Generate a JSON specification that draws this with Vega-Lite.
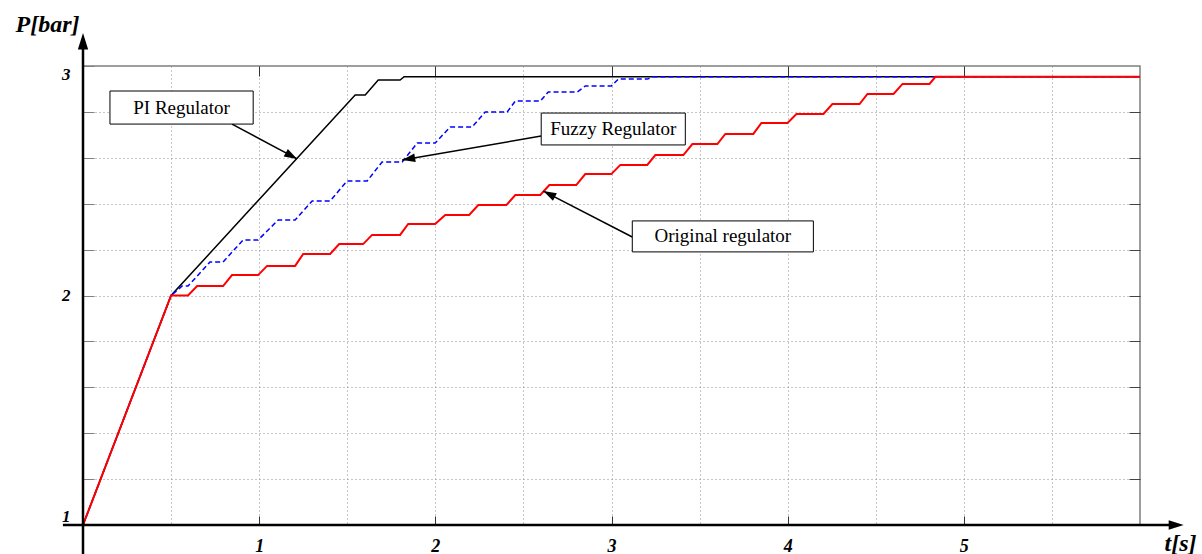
{
  "$schema": "https://vega.github.io/schema/vega-lite/v6.json",
  "width": 1057,
  "height": 459,
  "autosize": {"type": "none"},
  "padding": {"left": 83, "top": 66, "right": 62, "bottom": 29},
  "background": "white",
  "config": {
    "view": {"stroke": "#7f7f7f", "strokeWidth": 1.5},
    "axis": {"labelFont": "Liberation Serif", "titleFont": "Liberation Serif"}
  },
  "datasets": {
    "curves": [
      {"series": "PI", "t": 0, "p": 1},
      {"series": "PI", "t": 0.5, "p": 2},
      {"series": "PI", "t": 1.545, "p": 2.874},
      {"series": "PI", "t": 1.602, "p": 2.874},
      {"series": "PI", "t": 1.676, "p": 2.939},
      {"series": "PI", "t": 1.8, "p": 2.939},
      {"series": "PI", "t": 1.823, "p": 2.953},
      {"series": "PI", "t": 6, "p": 2.953},
      {"series": "Fuzzy", "t": 0, "p": 1},
      {"series": "Fuzzy", "t": 0.5, "p": 2},
      {"series": "Fuzzy", "t": 0.562, "p": 2.041},
      {"series": "Fuzzy", "t": 0.596, "p": 2.041},
      {"series": "Fuzzy", "t": 0.721, "p": 2.146},
      {"series": "Fuzzy", "t": 0.795, "p": 2.146},
      {"series": "Fuzzy", "t": 0.909, "p": 2.242},
      {"series": "Fuzzy", "t": 0.994, "p": 2.242},
      {"series": "Fuzzy", "t": 1.108, "p": 2.329},
      {"series": "Fuzzy", "t": 1.204, "p": 2.329},
      {"series": "Fuzzy", "t": 1.301, "p": 2.412},
      {"series": "Fuzzy", "t": 1.403, "p": 2.412},
      {"series": "Fuzzy", "t": 1.499, "p": 2.499},
      {"series": "Fuzzy", "t": 1.613, "p": 2.499},
      {"series": "Fuzzy", "t": 1.698, "p": 2.582},
      {"series": "Fuzzy", "t": 1.812, "p": 2.582},
      {"series": "Fuzzy", "t": 1.897, "p": 2.664},
      {"series": "Fuzzy", "t": 1.999, "p": 2.664},
      {"series": "Fuzzy", "t": 2.084, "p": 2.734},
      {"series": "Fuzzy", "t": 2.209, "p": 2.734},
      {"series": "Fuzzy", "t": 2.283, "p": 2.8},
      {"series": "Fuzzy", "t": 2.408, "p": 2.8},
      {"series": "Fuzzy", "t": 2.454, "p": 2.847},
      {"series": "Fuzzy", "t": 2.596, "p": 2.847},
      {"series": "Fuzzy", "t": 2.641, "p": 2.887},
      {"series": "Fuzzy", "t": 2.806, "p": 2.887},
      {"series": "Fuzzy", "t": 2.851, "p": 2.913},
      {"series": "Fuzzy", "t": 2.999, "p": 2.913},
      {"series": "Fuzzy", "t": 3.039, "p": 2.943},
      {"series": "Fuzzy", "t": 3.203, "p": 2.943},
      {"series": "Fuzzy", "t": 3.237, "p": 2.953},
      {"series": "Fuzzy", "t": 6, "p": 2.953},
      {"series": "Original", "t": 0, "p": 1},
      {"series": "Original", "t": 0.5, "p": 2},
      {"series": "Original", "t": 0.596, "p": 2},
      {"series": "Original", "t": 0.648, "p": 2.041},
      {"series": "Original", "t": 0.795, "p": 2.041},
      {"series": "Original", "t": 0.846, "p": 2.089},
      {"series": "Original", "t": 0.994, "p": 2.089},
      {"series": "Original", "t": 1.045, "p": 2.129},
      {"series": "Original", "t": 1.204, "p": 2.129},
      {"series": "Original", "t": 1.25, "p": 2.181},
      {"series": "Original", "t": 1.403, "p": 2.181},
      {"series": "Original", "t": 1.454, "p": 2.224},
      {"series": "Original", "t": 1.59, "p": 2.224},
      {"series": "Original", "t": 1.641, "p": 2.264},
      {"series": "Original", "t": 1.8, "p": 2.264},
      {"series": "Original", "t": 1.846, "p": 2.312},
      {"series": "Original", "t": 1.999, "p": 2.312},
      {"series": "Original", "t": 2.056, "p": 2.351},
      {"series": "Original", "t": 2.192, "p": 2.351},
      {"series": "Original", "t": 2.244, "p": 2.394},
      {"series": "Original", "t": 2.403, "p": 2.394},
      {"series": "Original", "t": 2.454, "p": 2.438},
      {"series": "Original", "t": 2.596, "p": 2.438},
      {"series": "Original", "t": 2.647, "p": 2.481},
      {"series": "Original", "t": 2.8, "p": 2.481},
      {"series": "Original", "t": 2.851, "p": 2.529},
      {"series": "Original", "t": 2.999, "p": 2.529},
      {"series": "Original", "t": 3.05, "p": 2.569},
      {"series": "Original", "t": 3.203, "p": 2.569},
      {"series": "Original", "t": 3.249, "p": 2.612},
      {"series": "Original", "t": 3.408, "p": 2.612},
      {"series": "Original", "t": 3.459, "p": 2.66},
      {"series": "Original", "t": 3.601, "p": 2.66},
      {"series": "Original", "t": 3.646, "p": 2.704},
      {"series": "Original", "t": 3.805, "p": 2.704},
      {"series": "Original", "t": 3.851, "p": 2.752},
      {"series": "Original", "t": 3.999, "p": 2.752},
      {"series": "Original", "t": 4.05, "p": 2.791},
      {"series": "Original", "t": 4.203, "p": 2.791},
      {"series": "Original", "t": 4.254, "p": 2.834},
      {"series": "Original", "t": 4.408, "p": 2.834},
      {"series": "Original", "t": 4.453, "p": 2.878},
      {"series": "Original", "t": 4.601, "p": 2.878},
      {"series": "Original", "t": 4.652, "p": 2.922},
      {"series": "Original", "t": 4.805, "p": 2.922},
      {"series": "Original", "t": 4.839, "p": 2.953},
      {"series": "Original", "t": 6, "p": 2.953}
    ],
    "axisLines": [
      {"axis": "x", "xa": -0.114, "xb": 6.2, "ya": 1, "yb": 1},
      {"axis": "y", "xa": 0, "xb": 0, "ya": 0.87, "yb": 3.11}
    ],
    "axisTips": [
      {"axis": "x", "xt": 6.248, "yt": 1},
      {"axis": "y", "xt": 0, "yt": 3.144}
    ],
    "notes": [
      {"label": "PI Regulator", "bx1": 0.153, "bx2": 0.966, "by1": 2.891, "by2": 2.747, "tx": 0.5595, "ty": 2.819, "sx": 0.846, "sy": 2.747, "ex": 1.2155, "ey": 2.595},
      {"label": "Fuzzy Regulator", "bx1": 2.601, "bx2": 3.419, "by1": 2.795, "by2": 2.656, "tx": 3.0103, "ty": 2.7255, "sx": 2.601, "sy": 2.695, "ex": 1.812, "ey": 2.59},
      {"label": "Original regulator", "bx1": 3.118, "bx2": 4.146, "by1": 2.325, "by2": 2.19, "tx": 3.6322, "ty": 2.2571, "sx": 3.118, "sy": 2.255, "ex": 2.613, "ey": 2.455}
    ]
  },
  "layer": [
    {
      "data": {"name": "curves"},
      "transform": [{"filter": "datum.series === 'PI'"}],
      "mark": {"type": "line", "color": "black", "strokeWidth": 1.5},
      "encoding": {
        "x": {
          "field": "t", "type": "quantitative",
          "scale": {"domain": [0, 6], "nice": false, "zero": false},
          "axis": {
            "orient": "bottom",
            "values": [0, 0.5, 1, 1.5, 2, 2.5, 3, 3.5, 4, 4.5, 5, 5.5, 6],
            "domain": false,
            "grid": true,
            "gridColor": "#8c8c8c",
            "gridDash": [1, 3],
            "gridWidth": 1,
            "gridOpacity": {"condition": {"test": "datum.value === 0 || datum.value === 6", "value": 0}, "value": 1},
            "tickColor": "#333333",
            "tickSize": -9,
            "tickOpacity": {"condition": {"test": "datum.value % 1 !== 0 || datum.value === 0 || datum.value === 6", "value": 0}, "value": 1},
            "labelExpr": "(datum.value % 1 === 0 && datum.value >= 1 && datum.value <= 5) ? ('' + datum.value) : ''",
            "labelFontSize": 18,
            "labelFontStyle": "italic",
            "labelFontWeight": "bold",
            "labelColor": "black",
            "labelBaseline": "top",
            "labelPadding": 21,
            "title": "t[s]",
            "titleX": 1097,
            "titleY": 18,
            "titleAlign": "center",
            "titleBaseline": "middle",
            "titleFontSize": 24,
            "titleFontStyle": "italic",
            "titleFontWeight": "bold",
            "titleColor": "black"
          }
        },
        "y": {
          "field": "p", "type": "quantitative",
          "scale": {"domain": [1, 3], "nice": false, "zero": false},
          "axis": {
            "orient": "left",
            "values": [1, 1.2, 1.4, 1.6, 1.8, 2, 2.2, 2.4, 2.6, 2.8, 3],
            "domain": false,
            "grid": true,
            "gridColor": "#8c8c8c",
            "gridDash": [1, 3],
            "gridWidth": 1,
            "gridOpacity": {"condition": {"test": "datum.value === 1 || datum.value === 3", "value": 0}, "value": 1},
            "tickColor": "#808080",
            "tickSize": -11,
            "labelExpr": "datum.value % 1 === 0 ? ('' + datum.value) : ''",
            "labelFlush": true,
            "labelFontSize": 17,
            "labelFontStyle": "italic",
            "labelFontWeight": "bold",
            "labelColor": "black",
            "labelPadding": 24,
            "title": "P[bar]",
            "titleAngle": 0,
            "titleX": -36,
            "titleY": -42,
            "titleAlign": "center",
            "titleBaseline": "middle",
            "titleFontSize": 24,
            "titleFontStyle": "italic",
            "titleFontWeight": "bold",
            "titleColor": "black"
          }
        }
      }
    },
    {
      "data": {"name": "curves"},
      "transform": [{"filter": "datum.series === 'Fuzzy'"}],
      "mark": {"type": "line", "color": "#0000ff", "strokeWidth": 1.5, "strokeDash": [5, 3]},
      "encoding": {
        "x": {
          "field": "t", "type": "quantitative",
          "scale": {"domain": [0, 6], "nice": false, "zero": false},
          "axis": {
            "orient": "top",
            "values": [1, 2, 3, 4, 5],
            "domain": false,
            "grid": false,
            "labels": false,
            "tickColor": "#333333",
            "tickSize": -10,
            "title": null
          }
        },
        "y": {
          "field": "p", "type": "quantitative",
          "scale": {"domain": [1, 3], "nice": false, "zero": false},
          "axis": {
            "orient": "right",
            "values": [1.2, 1.4, 1.6, 1.8, 2, 2.2, 2.4, 2.6, 2.8],
            "domain": false,
            "grid": false,
            "labels": false,
            "tickColor": "#444444",
            "tickSize": -11,
            "title": null
          }
        }
      }
    },
    {
      "data": {"name": "curves"},
      "transform": [{"filter": "datum.series === 'Original'"}],
      "mark": {"type": "line", "color": "#ff0000", "strokeWidth": 2},
      "encoding": {
        "x": {"field": "t", "type": "quantitative", "scale": {"domain": [0, 6], "nice": false, "zero": false}, "axis": null},
        "y": {"field": "p", "type": "quantitative", "scale": {"domain": [1, 3], "nice": false, "zero": false}, "axis": null}
      }
    },
    {
      "data": {"name": "axisLines"},
      "mark": {"type": "rule", "color": "black", "strokeWidth": 2.5},
      "encoding": {
        "x": {"field": "xa", "type": "quantitative", "scale": {"domain": [0, 6], "nice": false, "zero": false}, "axis": null},
        "x2": {"field": "xb"},
        "y": {"field": "ya", "type": "quantitative", "scale": {"domain": [1, 3], "nice": false, "zero": false}, "axis": null},
        "y2": {"field": "yb"}
      }
    },
    {
      "data": {"name": "axisTips"},
      "transform": [{"filter": "datum.axis === 'x'"}],
      "mark": {"type": "point", "shape": "M0,0L0.31,1L-0.31,1Z", "size": 900, "angle": 90, "filled": true, "color": "black", "opacity": 1, "strokeWidth": 0},
      "encoding": {
        "x": {"field": "xt", "type": "quantitative", "scale": {"domain": [0, 6], "nice": false, "zero": false}, "axis": null},
        "y": {"field": "yt", "type": "quantitative", "scale": {"domain": [1, 3], "nice": false, "zero": false}, "axis": null}
      }
    },
    {
      "data": {"name": "axisTips"},
      "transform": [{"filter": "datum.axis === 'y'"}],
      "mark": {"type": "point", "shape": "M0,0L0.31,1L-0.31,1Z", "size": 1100, "angle": 0, "filled": true, "color": "black", "opacity": 1, "strokeWidth": 0},
      "encoding": {
        "x": {"field": "xt", "type": "quantitative", "scale": {"domain": [0, 6], "nice": false, "zero": false}, "axis": null},
        "y": {"field": "yt", "type": "quantitative", "scale": {"domain": [1, 3], "nice": false, "zero": false}, "axis": null}
      }
    },
    {
      "data": {"name": "notes"},
      "mark": {"type": "rule", "color": "black", "strokeWidth": 1.5},
      "encoding": {
        "x": {"field": "sx", "type": "quantitative", "scale": {"domain": [0, 6], "nice": false, "zero": false}, "axis": null},
        "x2": {"field": "ex"},
        "y": {"field": "sy", "type": "quantitative", "scale": {"domain": [1, 3], "nice": false, "zero": false}, "axis": null},
        "y2": {"field": "ey"}
      }
    },
    {
      "data": {"name": "notes"},
      "transform": [{"filter": "datum.label === 'PI Regulator'"}],
      "mark": {"type": "point", "shape": "M0,0L0.33,1L-0.33,1Z", "size": 676, "angle": 119, "filled": true, "color": "black", "opacity": 1, "strokeWidth": 0},
      "encoding": {
        "x": {"field": "ex", "type": "quantitative", "scale": {"domain": [0, 6], "nice": false, "zero": false}, "axis": null},
        "y": {"field": "ey", "type": "quantitative", "scale": {"domain": [1, 3], "nice": false, "zero": false}, "axis": null}
      }
    },
    {
      "data": {"name": "notes"},
      "transform": [{"filter": "datum.label === 'Fuzzy Regulator'"}],
      "mark": {"type": "point", "shape": "M0,0L0.33,1L-0.33,1Z", "size": 676, "angle": 260, "filled": true, "color": "black", "opacity": 1, "strokeWidth": 0},
      "encoding": {
        "x": {"field": "ex", "type": "quantitative", "scale": {"domain": [0, 6], "nice": false, "zero": false}, "axis": null},
        "y": {"field": "ey", "type": "quantitative", "scale": {"domain": [1, 3], "nice": false, "zero": false}, "axis": null}
      }
    },
    {
      "data": {"name": "notes"},
      "transform": [{"filter": "datum.label === 'Original regulator'"}],
      "mark": {"type": "point", "shape": "M0,0L0.33,1L-0.33,1Z", "size": 676, "angle": 297, "filled": true, "color": "black", "opacity": 1, "strokeWidth": 0},
      "encoding": {
        "x": {"field": "ex", "type": "quantitative", "scale": {"domain": [0, 6], "nice": false, "zero": false}, "axis": null},
        "y": {"field": "ey", "type": "quantitative", "scale": {"domain": [1, 3], "nice": false, "zero": false}, "axis": null}
      }
    },
    {
      "data": {"name": "notes"},
      "mark": {"type": "rect", "fill": "white", "stroke": "black", "strokeWidth": 1},
      "encoding": {
        "x": {"field": "bx1", "type": "quantitative", "scale": {"domain": [0, 6], "nice": false, "zero": false}, "axis": null},
        "x2": {"field": "bx2"},
        "y": {"field": "by1", "type": "quantitative", "scale": {"domain": [1, 3], "nice": false, "zero": false}, "axis": null},
        "y2": {"field": "by2"}
      }
    },
    {
      "data": {"name": "notes"},
      "mark": {"type": "text", "font": "Liberation Serif", "fontSize": 19, "color": "black", "align": "center", "baseline": "middle"},
      "encoding": {
        "x": {"field": "tx", "type": "quantitative", "scale": {"domain": [0, 6], "nice": false, "zero": false}, "axis": null},
        "y": {"field": "ty", "type": "quantitative", "scale": {"domain": [1, 3], "nice": false, "zero": false}, "axis": null},
        "text": {"field": "label", "type": "nominal"}
      }
    }
  ],
  "resolve": {"axis": {"x": "independent", "y": "independent"}}
}
